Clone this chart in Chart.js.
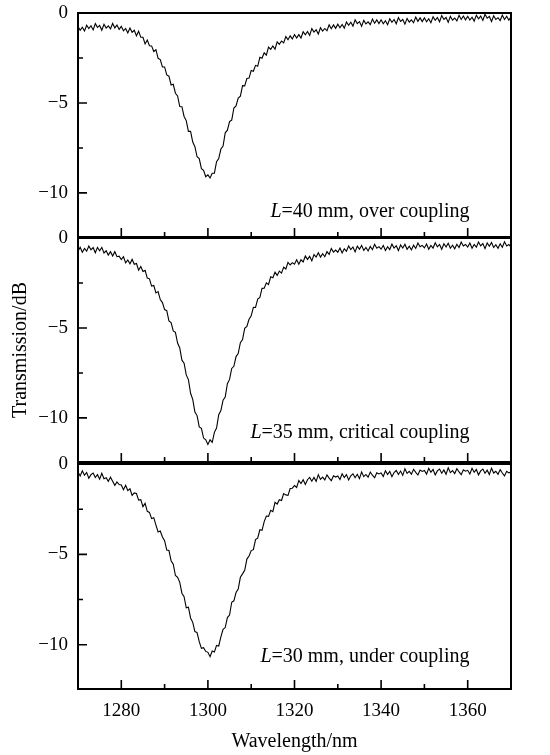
<!DOCTYPE html>
<html>
<head>
<meta charset="utf-8">
<script src="https://cdn.jsdelivr.net/npm/chart.js@4.4.0/dist/chart.umd.min.js"></script>
<style>
  body { margin: 0; background: #fff; }
  #fig { position: relative; width: 550px; height: 755px; }
  #fig canvas { position: absolute; left: 0; }
</style>
</head>
<body>
<div id="fig">
  <canvas id="p1" width="550" height="250" style="top:0px"></canvas>
  <canvas id="p2" width="550" height="250" style="top:225px"></canvas>
  <canvas id="p3" width="550" height="304" style="top:451px"></canvas>
</div>
<script>
// wavelength grid (nm)
const wavelength = [
  1270,1270.5,1271,1271.5,1272,1272.5,1273,1273.5,1274,1274.5,
  1275,1275.5,1276,1276.5,1277,1277.5,1278,1278.5,1279,1279.5,
  1280,1280.5,1281,1281.5,1282,1282.5,1283,1283.5,1284,1284.5,
  1285,1285.5,1286,1286.5,1287,1287.5,1288,1288.5,1289,1289.5,
  1290,1290.5,1291,1291.5,1292,1292.5,1293,1293.5,1294,1294.5,
  1295,1295.5,1296,1296.5,1297,1297.5,1298,1298.5,1299,1299.5,
  1300,1300.5,1301,1301.5,1302,1302.5,1303,1303.5,1304,1304.5,
  1305,1305.5,1306,1306.5,1307,1307.5,1308,1308.5,1309,1309.5,
  1310,1310.5,1311,1311.5,1312,1312.5,1313,1313.5,1314,1314.5,
  1315,1315.5,1316,1316.5,1317,1317.5,1318,1318.5,1319,1319.5,
  1320,1320.5,1321,1321.5,1322,1322.5,1323,1323.5,1324,1324.5,
  1325,1325.5,1326,1326.5,1327,1327.5,1328,1328.5,1329,1329.5,
  1330,1330.5,1331,1331.5,1332,1332.5,1333,1333.5,1334,1334.5,
  1335,1335.5,1336,1336.5,1337,1337.5,1338,1338.5,1339,1339.5,
  1340,1340.5,1341,1341.5,1342,1342.5,1343,1343.5,1344,1344.5,
  1345,1345.5,1346,1346.5,1347,1347.5,1348,1348.5,1349,1349.5,
  1350,1350.5,1351,1351.5,1352,1352.5,1353,1353.5,1354,1354.5,
  1355,1355.5,1356,1356.5,1357,1357.5,1358,1358.5,1359,1359.5,
  1360,1360.5,1361,1361.5,1362,1362.5,1363,1363.5,1364,1364.5,
  1365,1365.5,1366,1366.5,1367,1367.5,1368,1368.5,1369,1369.5,
  1370
];

// L=40 mm
const overCoupling = [
  -0.75,-0.96,-0.79,-1.00,-0.68,-0.87,-0.71,-0.94,-0.59,-0.80,
  -0.69,-0.96,-0.63,-0.84,-0.72,-0.88,-0.58,-0.83,-0.67,-0.91,
  -0.74,-0.99,-0.86,-1.11,-0.83,-1.07,-0.96,-1.27,-1.01,-1.34,
  -1.35,-1.72,-1.50,-1.82,-1.83,-2.14,-2.04,-2.52,-2.59,-3.00,
  -3.00,-3.44,-3.51,-4.00,-3.96,-4.46,-4.61,-5.20,-5.21,-5.75,
  -5.98,-6.58,-6.58,-7.17,-7.43,-7.99,-8.09,-8.65,-8.74,-9.10,
  -9.00,-9.17,-8.91,-8.90,-8.26,-8.09,-7.56,-7.40,-6.66,-6.51,
  -6.03,-5.95,-5.28,-5.17,-4.73,-4.62,-4.04,-4.05,-3.64,-3.62,
  -3.20,-3.24,-2.91,-2.96,-2.46,-2.51,-2.21,-2.34,-1.89,-2.02,
  -1.83,-2.01,-1.60,-1.74,-1.56,-1.66,-1.31,-1.49,-1.27,-1.44,
  -1.20,-1.39,-1.20,-1.39,-1.04,-1.21,-1.03,-1.24,-0.87,-1.06,
  -0.93,-1.17,-0.82,-1.00,-0.86,-0.99,-0.66,-0.87,-0.66,-0.85,
  -0.62,-0.82,-0.64,-0.84,-0.50,-0.68,-0.51,-0.73,-0.38,-0.59,
  -0.48,-0.74,-0.41,-0.61,-0.49,-0.65,-0.34,-0.57,-0.38,-0.59,
  -0.38,-0.60,-0.43,-0.65,-0.32,-0.52,-0.36,-0.60,-0.25,-0.47,
  -0.36,-0.62,-0.30,-0.50,-0.38,-0.54,-0.23,-0.46,-0.27,-0.48,
  -0.27,-0.49,-0.32,-0.54,-0.21,-0.41,-0.25,-0.49,-0.14,-0.36,
  -0.25,-0.52,-0.19,-0.40,-0.28,-0.44,-0.13,-0.36,-0.17,-0.38,
  -0.18,-0.39,-0.23,-0.45,-0.12,-0.32,-0.17,-0.41,-0.07,-0.29,
  -0.19,-0.47,-0.15,-0.36,-0.26,-0.42,-0.12,-0.36,-0.18,-0.40,
  -0.20
];

// L=35 mm
const criticalCoupling = [
  -0.73,-0.51,-0.79,-0.58,-0.73,-0.44,-0.66,-0.53,-0.82,-0.52,
  -0.71,-0.52,-0.83,-0.71,-0.95,-0.76,-1.00,-0.76,-1.04,-1.01,
  -1.20,-1.04,-1.38,-1.22,-1.43,-1.19,-1.46,-1.42,-1.79,-1.58,
  -1.86,-1.80,-2.23,-2.27,-2.67,-2.64,-3.05,-2.98,-3.42,-3.59,
  -3.98,-4.04,-4.61,-4.70,-5.16,-5.24,-5.84,-6.11,-6.79,-6.96,
  -7.61,-7.87,-8.63,-8.97,-9.67,-9.87,-10.50,-10.58,-11.12,-11.22,
  -11.48,-11.22,-11.36,-10.80,-10.56,-9.82,-9.59,-9.01,-8.84,-8.10,
  -7.86,-7.25,-7.13,-6.59,-6.42,-5.82,-5.65,-5.02,-4.92,-4.52,
  -4.33,-3.85,-3.86,-3.40,-3.31,-2.80,-2.79,-2.49,-2.59,-2.16,
  -2.21,-1.90,-2.08,-1.84,-1.95,-1.62,-1.72,-1.35,-1.50,-1.37,
  -1.46,-1.21,-1.46,-1.21,-1.33,-1.00,-1.19,-1.02,-1.27,-0.92,
  -1.06,-0.82,-1.06,-0.87,-1.04,-0.76,-0.91,-0.58,-0.78,-0.67,
  -0.79,-0.56,-0.83,-0.60,-0.74,-0.44,-0.64,-0.50,-0.77,-0.45,
  -0.62,-0.41,-0.69,-0.53,-0.72,-0.47,-0.65,-0.35,-0.57,-0.48,
  -0.62,-0.41,-0.69,-0.48,-0.64,-0.34,-0.56,-0.43,-0.70,-0.39,
  -0.56,-0.35,-0.63,-0.46,-0.66,-0.40,-0.58,-0.28,-0.49,-0.41,
  -0.55,-0.33,-0.62,-0.41,-0.56,-0.27,-0.49,-0.36,-0.63,-0.32,
  -0.50,-0.29,-0.57,-0.40,-0.60,-0.35,-0.53,-0.22,-0.44,-0.36,
  -0.50,-0.28,-0.57,-0.36,-0.51,-0.22,-0.44,-0.31,-0.59,-0.28,
  -0.46,-0.25,-0.53,-0.37,-0.57,-0.32,-0.51,-0.21,-0.44,-0.36,
  -0.51
];

// L=30 mm
const underCoupling = [
  -0.44,-0.66,-0.38,-0.62,-0.47,-0.79,-0.59,-0.50,-0.75,-0.59,
  -0.84,-0.51,-0.82,-0.76,-0.96,-0.73,-0.96,-1.18,-0.99,-1.14,
  -1.16,-1.42,-1.18,-1.47,-1.37,-1.74,-1.60,-1.63,-2.00,-1.97,
  -2.36,-2.18,-2.62,-2.68,-3.02,-2.97,-3.38,-3.76,-3.71,-4.04,
  -4.24,-4.76,-4.78,-5.35,-5.54,-6.17,-6.27,-6.55,-7.15,-7.34,
  -7.96,-7.92,-8.52,-8.76,-9.27,-9.33,-9.83,-10.20,-10.16,-10.37,
  -10.42,-10.66,-10.35,-10.40,-10.04,-10.07,-9.57,-9.15,-9.05,-8.50,
  -8.36,-7.65,-7.57,-7.11,-6.92,-6.27,-6.08,-5.88,-5.26,-5.09,
  -4.79,-4.74,-4.18,-4.10,-3.64,-3.67,-3.19,-2.88,-2.90,-2.56,
  -2.64,-2.12,-2.22,-1.98,-2.02,-1.64,-1.71,-1.74,-1.36,-1.34,
  -1.19,-1.30,-0.91,-1.08,-0.87,-1.13,-0.87,-0.74,-0.95,-0.74,
  -0.96,-0.59,-0.85,-0.73,-0.88,-0.60,-0.78,-0.92,-0.65,-0.72,
  -0.66,-0.86,-0.54,-0.75,-0.59,-0.88,-0.65,-0.54,-0.76,-0.57,
  -0.81,-0.44,-0.70,-0.58,-0.73,-0.45,-0.62,-0.76,-0.48,-0.55,
  -0.49,-0.69,-0.37,-0.58,-0.41,-0.70,-0.47,-0.36,-0.58,-0.39,
  -0.63,-0.26,-0.52,-0.41,-0.56,-0.29,-0.46,-0.61,-0.33,-0.41,
  -0.36,-0.56,-0.24,-0.46,-0.30,-0.60,-0.38,-0.28,-0.51,-0.33,
  -0.57,-0.21,-0.48,-0.37,-0.53,-0.26,-0.44,-0.59,-0.32,-0.40,
  -0.35,-0.55,-0.24,-0.46,-0.30,-0.60,-0.38,-0.28,-0.51,-0.34,
  -0.58,-0.23,-0.50,-0.40,-0.57,-0.31,-0.50,-0.66,-0.40,-0.49,
  -0.44
];

const xMajorTicks = [1280, 1300, 1320, 1340, 1360];
const xMinorTicks = [1290, 1310, 1330, 1350];
const yMajorTicks = [0, -5, -10];
const yMinorTicks = [-2.5, -7.5];
const panelNotes = [
  ["L", "=40 mm, over coupling"],
  ["L", "=35 mm, critical coupling"],
  ["L", "=30 mm, under coupling"],
];

const SERIF = '"Liberation Serif", "Times New Roman", serif';
Chart.defaults.font.family = SERIF;
Chart.defaults.color = "#000";

// box, inward ticks and the panel note
const framePlugin = {
  id: "frame",
  afterDraw(chart, args, opts) {
    const { ctx, chartArea: a } = chart;
    const xs = chart.scales.x;
    const ys = chart.scales.y;
    ctx.save();
    ctx.strokeStyle = "#000";
    ctx.lineWidth = 1.6;
    ctx.beginPath();
    xMajorTicks.forEach((v) => {
      const px = xs.getPixelForValue(v);
      ctx.moveTo(px, a.bottom); ctx.lineTo(px, a.bottom - 9);
    });
    xMinorTicks.forEach((v) => {
      const px = xs.getPixelForValue(v);
      ctx.moveTo(px, a.bottom); ctx.lineTo(px, a.bottom - 5);
    });
    yMajorTicks.forEach((v) => {
      const py = ys.getPixelForValue(v);
      ctx.moveTo(a.left, py); ctx.lineTo(a.left + 9, py);
    });
    yMinorTicks.forEach((v) => {
      const py = ys.getPixelForValue(v);
      ctx.moveTo(a.left, py); ctx.lineTo(a.left + 5, py);
    });
    ctx.stroke();
    ctx.lineWidth = 2;
    ctx.strokeRect(a.left, a.top, a.right - a.left, a.bottom - a.top);

    // note, right aligned
    const [it, rest] = opts.note;
    ctx.fillStyle = "#000";
    ctx.textBaseline = "alphabetic";
    ctx.font = "italic 20px " + SERIF;
    const w1 = ctx.measureText(it).width;
    ctx.font = "20px " + SERIF;
    const w2 = ctx.measureText(rest).width;
    const right = xs.getPixelForValue(opts.noteX);
    const base = ys.getPixelForValue(opts.noteY);
    ctx.font = "italic 20px " + SERIF;
    ctx.fillText(it, right - w1 - w2, base);
    ctx.font = "20px " + SERIF;
    ctx.fillText(rest, right - w2, base);
    ctx.restore();
  },
};

function makePanel(id, series, note, noteY, bottom) {
  const points = wavelength.map((w, i) => ({ x: w, y: series[i] }));
  return new Chart(document.getElementById(id), {
    type: "line",
    data: {
      datasets: [{
        data: points,
        borderColor: "#000",
        borderWidth: 1.1,
        pointRadius: 0,
        tension: 0,
        fill: false,
      }],
    },
    options: {
      responsive: false,
      animation: false,
      devicePixelRatio: 1,
      layout: {
        autoPadding: false,
        padding: { top: 13, bottom: bottom ? 0 : 13, left: 0, right: 39 },
      },
      plugins: {
        legend: { display: false },
        tooltip: { enabled: false },
        frame: { note, noteX: 1360.4, noteY },
      },
      scales: {
        x: {
          type: "linear",
          min: 1270,
          max: 1370,
          display: bottom,
          grid: { display: false, drawTicks: false },
          border: { display: false },
          afterBuildTicks: (s) => { s.ticks = xMajorTicks.map((v) => ({ value: v })); },
          afterFit: (s) => {
            s.height = bottom ? 66 : 0;
            s.paddingLeft = 0;
            s.paddingRight = 0;
          },
          ticks: {
            font: { size: 19 },
            padding: 11,
            maxRotation: 0,
            callback: (v) => String(v),
          },
          title: {
            display: true,
            text: "Wavelength/nm",
            font: { size: 20 },
            padding: { top: 0, bottom: 1 },
          },
        },
        y: {
          min: -12.45,
          max: 0,
          grid: { display: false, drawTicks: false },
          border: { display: false },
          afterBuildTicks: (s) => { s.ticks = yMajorTicks.map((v) => ({ value: v })); },
          afterFit: (s) => {
            s.width = 78;
            s.paddingTop = 0;
            s.paddingBottom = 0;
          },
          ticks: {
            font: { size: 19 },
            padding: 10,
            callback: (v) => (v < 0 ? "\u2212" + Math.abs(v) : String(v)),
          },
          title: {
            display: id === "p2",
            text: "Transmission/dB",
            font: { size: 20 },
            padding: { top: 9, bottom: 0 },
          },
        },
      },
    },
    plugins: [framePlugin],
  });
}

makePanel("p1", overCoupling, panelNotes[0], -11.33, false);
makePanel("p2", criticalCoupling, panelNotes[1], -11.1, false);
makePanel("p3", underCoupling, panelNotes[2], -10.95, true);
</script>
</body>
</html>
